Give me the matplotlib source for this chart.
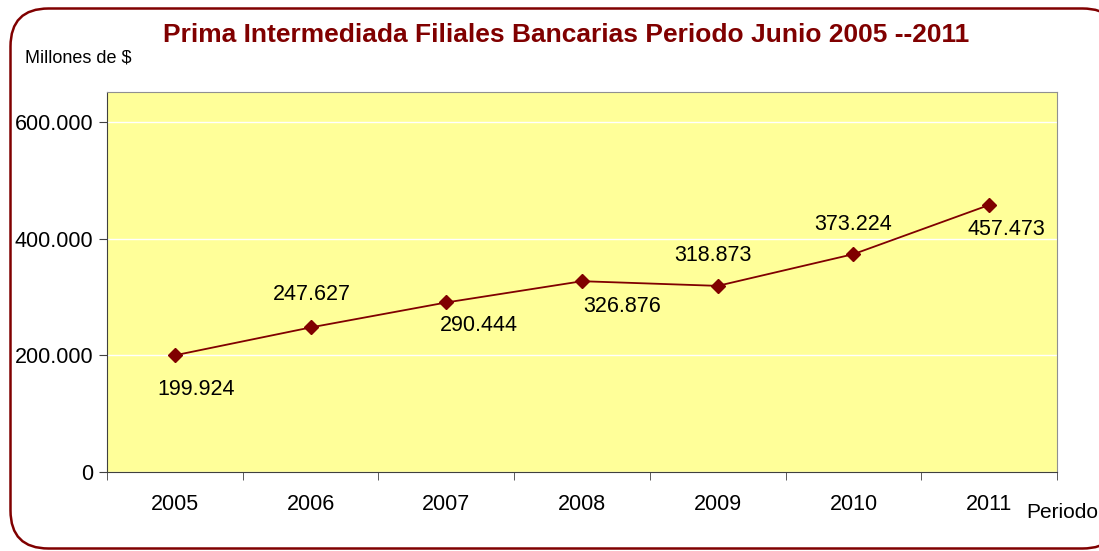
import matplotlib
matplotlib.use('agg')
import matplotlib.pyplot as plt
from matplotlib.patches import FancyBboxPatch

plt.rcParams['font.family'] = ['Liberation Sans', 'DejaVu Sans']

years = ['2005', '2006', '2007', '2008', '2009', '2010', '2011']
prima = [199924, 247627, 290444, 326876, 318873, 373224, 457473]
labels = ['199.924', '247.627', '290.444', '326.876', '318.873', '373.224', '457.473']
# label placement relative to each point, in pixels (x right, y up)
label_offsets = [(21, -34), (1, 33), (33, -23), (40, -25), (-5, 30), (0, 30), (17, -25)]

dark_red = '#800000'

fig = plt.figure(figsize=(10.99, 5.51), dpi=100)

# rounded frame around the whole chart, drawn on a pixel-sized overlay
bg = fig.add_axes([0, 0, 1, 1], zorder=-1)
bg.set_xlim(0, 1099)
bg.set_ylim(551, 0)
bg.axis('off')
bg.add_patch(FancyBboxPatch((10.5, 8.5), 1110, 540, boxstyle='round,pad=0,rounding_size=38',
                            facecolor='white', edgecolor=dark_red, linewidth=1.8))

ax = fig.add_axes([0.0974, 0.1434, 0.8644, 0.6896])
ax.set_facecolor('#ffff99')
x = list(range(len(years)))
ax.plot(x, prima, color=dark_red, linewidth=1.3, marker='D', markersize=7.5,
        markerfacecolor=dark_red, markeredgecolor=dark_red, zorder=3)

for xi, v, lab, off in zip(x, prima, labels, label_offsets):
    ax.annotate(lab, (xi, v), xytext=off, textcoords='offset pixels',
                ha='center', va='center', fontsize=15.5)

ax.set_xlim(-0.5, len(years) - 0.5)
ax.set_ylim(0, 651000)
ax.set_yticks([0, 200000, 400000, 600000])
ax.set_yticklabels(['0', '200.000', '400.000', '600.000'], fontsize=15.5)
ax.yaxis.grid(True, color='white', linewidth=1.0)
ax.set_axisbelow(True)

# category labels in the middle, ticks on the boundaries
ax.set_xticks(x)
ax.set_xticklabels(years, fontsize=15.5)
ax.tick_params(axis='x', which='major', length=0, pad=16)
ax.set_xticks([i - 0.5 for i in range(len(years) + 1)], minor=True)
ax.tick_params(axis='x', which='minor', length=6, color='#404040')
ax.tick_params(axis='y', length=6, color='#404040', pad=4)

for side in ['left', 'bottom']:
    ax.spines[side].set_color('#404040')
for side in ['top', 'right']:
    ax.spines[side].set_color('#909090')

fig.text(0.515, 0.937, 'Prima Intermediada Filiales Bancarias Periodo Junio 2005 --2011',
         ha='center', va='center', fontsize=19, fontweight='bold', color=dark_red)
fig.text(0.023, 0.895, 'Millones de $', ha='left', va='center', fontsize=13)
fig.text(0.934, 0.07, 'Periodo', ha='left', va='center', fontsize=15)

fig.savefig('out.png', dpi=100)
